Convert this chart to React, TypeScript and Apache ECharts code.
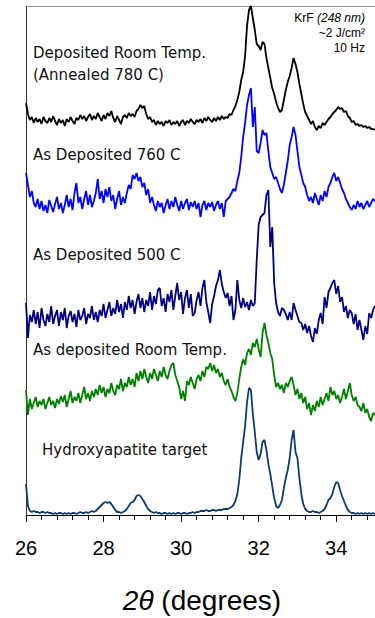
import React, { useEffect, useRef } from "react";
import * as echarts from "echarts";

// 2θ sampling of the scans (degrees)
const TWO_THETA_START = 26;
const TWO_THETA_STEP = 0.05;
const X_MIN = 26;
const X_MAX = 35;
const X_TICKS = [26, 28, 30, 32, 34];

// Intensities (arbitrary units) relative to each trace's baseline, one value per 0.05°
const annealed780 = [
  19, 8, 2, 5, -1, 4, 0, 3, -2, 5, 1, -1, 4, 0, 6, 1, -3, 3, -1, 2,
  -4, 3, 0, 5, 1, -2, 4, 2, 7, 3, 6, 1, 5, 8, 2, 6, 3, 9, 5, 1,
  7, 3, 9, 6, 11, 4, 0, 6, 2, -2, 5, 7, 4, 9, 6, 8, 5, 11, 13, 17,
  14, 16, 8, 3, 5, 0, 2, -3, 1, -2, 0, -4, 1, -1, 2, -3, 0, -2, 1, -4,
  0, 2, -3, 1, -1, 3, 0, -2, 2, 0, 3, -1, 4, 1, 5, 2, 0, 4, 1, 5,
  2, 6, 3, 5, 4, 8, 7, 12, 16, 22, 30, 42, 50, 66, 96, 112, 116, 104, 92, 78,
  76, 72, 80, 78, 64, 54, 44, 34, 28, 20, 14, 10, 12, 22, 32, 40, 46, 54, 64, 58,
  50, 38, 28, 18, 10, 6, 2, -2, 1, -5, -8, -4, -6, -1, -3, 0, 3, 5, 8, 10,
  12, 15, 13, 14, 10, 11, 6, 4, 0, 1, -3, -2, -4, -3, -5, -4, -6, -5, -7, -7,
  -8,
];

const deposited760 = [
  34, 22, 10, 16, 4, 0, 8, -2, 6, -4, 2, -6, 7, 1, -5, 3, 10, -2, 4, -6,
  2, 12, 0, 8, -3, 14, 24, 4, 10, -2, 8, 16, 2, 12, 0, 6, 14, 28, 8, 16,
  4, 18, 10, 20, 6, 12, -2, 8, 16, 2, 10, 4, 14, 22, 18, 32, 28, 34, 26, 30,
  20, 24, 12, 18, 4, 10, 2, -4, 6, 0, 4, -6, 2, 8, -2, 6, 0, 10, 2, -4,
  6, -2, 4, 8, -3, 5, 0, 6, -2, 4, -10, 2, 6, -3, 4, 0, 5, -4, 2, 6,
  -2, 4, -10, 6, 8, 10, 14, 18, 16, 26, 34, 50, 70, 84, 102, 112, 119, 80, 100, 56,
  54, 64, 77, 72, 74, 56, 40, 34, 28, 30, 24, 18, 14, 22, 34, 46, 62, 70, 80, 72,
  56, 40, 32, 24, 20, 12, 6, 10, 4, 14, 8, 2, 12, 6, 16, 10, 20, 24, 30, 34,
  26, 30, 24, 18, 14, 8, 4, 0, -3, 2, -2, 6, 0, 4, -2, 2, 6, 0, 4, 8,
  6,
];

const deposited500 = [
  17, -18, 5, -2, 10, -4, 8, -8, 12, 0, -6, 6, -2, 14, -4, 4, 10, -6, 8, 0,
  12, -8, 4, 9, -2, 6, -7, 10, 0, 4, 12, -4, 6, 2, 14, 0, 8, -2, 10, 4,
  16, 2, 10, 18, 4, 12, 6, 20, 8, 16, 2, 18, 10, 24, 12, 20, 6, 18, 26, 12,
  22, 8, 20, 14, 28, 10, 24, 16, 30, 32, 14, 22, 8, 26, 18, 30, 10, 24, 37, 20,
  28, 6, 22, 30, 12, 26, 4, 7, 20, 28, 14, 32, 40, 18, 8, -3, 16, 24, 34, 40,
  50, 36, 28, 22, 27, 14, 24, 0, 10, 40, 20, 12, 22, 13, 18, 10, 20, 14, 17, 60,
  95, 103, 105, 107, 125, 130, 73, 93, 37, 17, 8, 4, 12, 10, 6, 0, 8, 0, 17, 10,
  4, -2, -3, -10, -4, -13, -6, -16, -22, -8, -14, 0, 7, -4, 23, 12, 28, 32, 37, 40,
  26, 34, 18, 23, 8, 14, 2, 10, 7, -4, 6, -10, 0, -10, -20, -6, -14, 7, 2, 10,
  14,
];

const depositedRT = [
  15, -10, 6, -4, 2, 8, -2, 4, 0, 6, -4, 2, 8, 0, 4, -3, 6, 1, 9, 3,
  10, -2, 6, 14, 2, 8, 4, 12, 2, 10, 18, 6, 12, 4, 14, 8, 16, 10, 20, 12,
  18, 8, 16, 12, 22, 14, 10, 20, 16, 26, 14, 22, 18, 28, 20, 26, 18, 32, 24, 34,
  26, 36, 28, 22, 32, 26, 36, 30, 24, 34, 28, 38, 30, 26, 34, 40, 42, 30, 24, 18,
  6, 14, 4, 24, 20, 28, 22, 16, 26, 30, 24, 34, 28, 38, 36, 42, 34, 40, 32, 36,
  28, 32, 24, 20, 26, 18, 14, 8, 4, 12, 26, 38, 46, 40, 52, 56, 50, 62, 58, 66,
  56, 48, 72, 82, 70, 62, 52, 46, 30, 18, 22, 16, 20, 12, 22, 18, 24, 28, 20, 10,
  16, 6, 12, 2, 8, -4, 2, -10, 0, -6, 4, -2, 8, 0, 6, 12, 4, 18, 10, 14,
  6, 10, 2, 8, 16, 6, 14, 22, 10, 4, 8, 0, -2, -6, 2, -8, -4, -12, -16, -8,
  -10,
];

const hapTarget = [
  30, 8, 3, 2, 3, 2, 2, 1, 2, 2, 1, 2, 1, 1, 0, 1, 0, 1, 1, 0,
  1, 0, 1, 0, 1, 1, 0, 1, 2, 1, 1, 2, 1, 2, 3, 2, 3, 5, 7, 9,
  11, 12, 11, 12, 10, 7, 4, 2, 2, 1, 2, 3, 5, 8, 11, 12, 14, 18, 19, 18,
  15, 12, 8, 5, 3, 2, 1, 2, 1, 1, 0, 1, 1, 0, 1, 0, 1, 0, 1, 1,
  0, 1, 1, 0, 1, 1, 2, 1, 2, 2, 3, 3, 3, 4, 3, 3, 4, 4, 3, 4,
  4, 4, 5, 5, 5, 6, 7, 9, 13, 20, 34, 56, 72, 88, 112, 126, 124, 100, 82, 62,
  54, 60, 72, 74, 64, 50, 40, 28, 16, 8, 6, 9, 14, 26, 36, 44, 56, 74, 84, 62,
  56, 36, 20, 10, 5, 3, 2, 2, 3, 2, 2, 1, 2, 3, 5, 9, 14, 16, 20, 27,
  32, 31, 24, 18, 13, 8, 4, 2, 1, 1, 0, 1, 0, 1, 0, 1, 0, 1, 0, 1,
  0,
];

// vertical stacking offsets (same arbitrary units)
const OFFSETS = [393, 308, 195, 110, 1];
const Y_MAX = 509;

const SERIES_NAMES = [
  "Deposited Room Temp. (Annealed 780 C)",
  "As Deposited 760 C",
  "As Deposited 500 C",
  "As deposited Room Temp.",
  "Hydroxyapatite target",
];
const SERIES_DATA = [annealed780, deposited760, deposited500, depositedRT, hapTarget];
const SERIES_COLORS = ["#000000", "#0000ff", "#000080", "#008000", "#0f3c70"];

const LABEL_LINES = [
  "Deposited Room Temp.",
  "(Annealed 780 C)",
  "As Deposited 760 C",
  "As Deposited 500 C",
  "As deposited Room Temp.",
  "Hydroxyapatite target",
];

const CONDITIONS = ["~2 J/cm²", "10 Hz"];

export default function App() {
  const ref = useRef<HTMLDivElement>(null);

  useEffect(() => {
    if (!ref.current) return;
    const chart = echarts.init(ref.current, undefined, { renderer: "svg" });

    const series = SERIES_DATA.map((vals, si) => ({
      type: "line",
      name: SERIES_NAMES[si],
      xAxisIndex: 0,
      yAxisIndex: 0,
      showSymbol: false,
      symbol: "none",
      lineStyle: { color: SERIES_COLORS[si], width: 1.8 },
      itemStyle: { color: SERIES_COLORS[si] },
      z: 3 + si,
      data: vals.map((v, i) => [
        +(TWO_THETA_START + i * TWO_THETA_STEP).toFixed(2),
        v + OFFSETS[si],
      ]),
    }));

    const labelFont = { fontSize: 15, fontFamily: "DejaVu Sans", fill: "#111" };

    chart.setOption({
      animation: false,
      grid: { left: 26, right: 0, top: 6, bottom: 103 },
      xAxis: [
        {
          type: "value",
          min: X_MIN,
          max: X_MAX,
          interval: 2,
          axisLine: { show: true, lineStyle: { color: "#000", width: 1 } },
          axisTick: { show: true, length: 7, lineStyle: { color: "#000", width: 1 } },
          splitLine: { show: false },
          axisLabel: {
            margin: 23,
            color: "#000",
            fontSize: 20,
            fontFamily: "Liberation Sans",
            showMaxLabel: false,
            formatter: (v: number) => (X_TICKS.includes(Math.round(v * 100) / 100) ? String(v) : ""),
          },
        },
        {
          type: "value",
          position: "bottom",
          min: X_MIN,
          max: X_MAX,
          interval: 0.4,
          axisLine: { show: false },
          axisTick: { show: true, length: 5, lineStyle: { color: "#000", width: 1 } },
          axisLabel: { show: false },
          splitLine: { show: false },
        },
        {
          type: "value",
          position: "top",
          min: X_MIN,
          max: X_MAX,
          axisLine: { show: true, lineStyle: { color: "#9a9a9a", width: 1 } },
          axisTick: { show: false },
          axisLabel: { show: false },
          splitLine: { show: false },
        },
      ],
      yAxis: {
        type: "value",
        min: 0,
        max: Y_MAX,
        axisLine: { show: true, lineStyle: { color: "#333", width: 1 } },
        axisTick: { show: false },
        axisLabel: { show: false },
        splitLine: { show: false },
      },
      series,
      graphic: [
        { type: "text", x: 33, y: 53, style: { text: LABEL_LINES[0], ...labelFont, verticalAlign: "middle" }, z: 20 },
        { type: "text", x: 33, y: 75, style: { text: LABEL_LINES[1], ...labelFont, verticalAlign: "middle" }, z: 20 },
        { type: "text", x: 33, y: 155, style: { text: LABEL_LINES[2], ...labelFont, verticalAlign: "middle" }, z: 20 },
        { type: "text", x: 33, y: 255, style: { text: LABEL_LINES[3], ...labelFont, verticalAlign: "middle" }, z: 20 },
        { type: "text", x: 33, y: 350, style: { text: LABEL_LINES[4], ...labelFont, verticalAlign: "middle" }, z: 20 },
        { type: "text", x: 42, y: 450, style: { text: LABEL_LINES[5], ...labelFont, verticalAlign: "middle" }, z: 20 },
        {
          type: "text",
          x: 365,
          y: 18,
          z: 20,
          style: {
            text: "{a|KrF }{b|(248 nm)}",
            align: "right",
            verticalAlign: "middle",
            rich: {
              a: { fontSize: 12, fontFamily: "Liberation Sans", fill: "#000" },
              b: { fontSize: 12, fontFamily: "Liberation Sans", fontStyle: "italic", fill: "#000" },
            },
          },
        },
        {
          type: "text",
          x: 365,
          y: 33,
          z: 20,
          style: { text: CONDITIONS[0], align: "right", verticalAlign: "middle", fontSize: 12, fontFamily: "Liberation Sans", fill: "#000" },
        },
        {
          type: "text",
          x: 365,
          y: 48,
          z: 20,
          style: { text: CONDITIONS[1], align: "right", verticalAlign: "middle", fontSize: 12, fontFamily: "Liberation Sans", fill: "#000" },
        },
        {
          type: "text",
          x: 202,
          y: 600,
          z: 20,
          style: {
            text: "{i|2θ}{n| (degrees)}",
            align: "center",
            verticalAlign: "middle",
            rich: {
              i: { fontSize: 28, fontFamily: "Liberation Sans", fontStyle: "italic", fill: "#000" },
              n: { fontSize: 28, fontFamily: "Liberation Sans", fill: "#000" },
            },
          },
        },
      ],
    });

    return () => chart.dispose();
  }, []);

  return (
    <div
      ref={ref}
      style={{ position: "fixed", left: 0, top: 0, width: 375, height: 618, background: "#fff" }}
    />
  );
}
